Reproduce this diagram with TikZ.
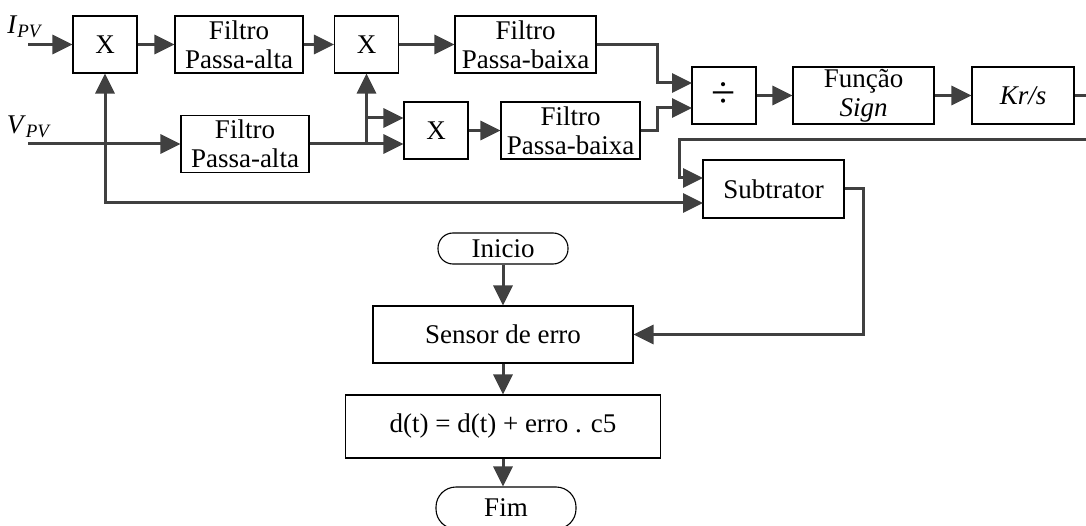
\documentclass[tikz,border=0pt]{standalone}
\usepackage{fontspec}
\setmainfont{Liberation Serif}
\usetikzlibrary{arrows.meta}
\definecolor{linecol}{HTML}{404040}
\tikzset{
  blk/.style={draw=black,line width=1.1pt,fill=white,align=center,inner sep=0pt,
    font=\fontsize{27}{29}\selectfont},
  term/.style={blk,rounded corners=15pt},
  sig/.style={->,line width=3pt,draw=linecol},
  lbl/.style={inner sep=0pt,font=\fontsize{27}{29}\selectfont},
}
\begin{document}
\begin{tikzpicture}[x=1pt,y=-1pt,>={Triangle[length=20pt,width=19pt]}]
    \useasboundingbox (0,0) rectangle (1086,526);
    % upper chain
    \node[blk,minimum width=64pt,minimum height=57pt] (x1) at (105,44.5) {X};
    \node[blk,minimum width=128pt,minimum height=57pt] (hpi) at (239,44.5) {Filtro\\Passa-alta};
    \node[blk,minimum width=64pt,minimum height=57pt] (x2) at (366.5,44.5) {X};
    \node[blk,minimum width=141pt,minimum height=57pt] (lpi) at (525.5,44.5) {Filtro\\Passa-baixa};
    % lower chain
    \node[blk,minimum width=128pt,minimum height=57pt] (hpv) at (245,144) {Filtro\\Passa-alta};
    \node[blk,minimum width=64pt,minimum height=57pt] (x3) at (436,130.5) {X};
    \node[blk,minimum width=139pt,minimum height=57pt] (lpv) at (570.5,130.5) {Filtro\\Passa-baixa};
    % divider, sign, integrator
    \node[blk,minimum width=64pt,minimum height=57pt,font=\fontsize{44}{44}\selectfont] (div) at (724,95.5) {÷};
    \node[blk,minimum width=141pt,minimum height=57pt] (sgn) at (863.5,95.5) {Função\\\textit{Sign}};
    \node[blk,minimum width=102pt,minimum height=57pt] (kr) at (1023,95.5) {\textit{Kr/s}};
    \node[blk,minimum width=141pt,minimum height=58pt] (sub) at (773.5,189) {Subtrator};
    % flowchart
    \node[term,minimum width=130pt,minimum height=31pt] (ini) at (503,248.5) {Inicio};
    \node[blk,minimum width=260pt,minimum height=57pt] (sens) at (503,334.5) {Sensor de erro};
    \node[blk,minimum width=315pt,minimum height=63pt] (dt) at (503,426.5) {d(t) = d(t) + erro . c5};
    \node[term,rounded corners=20pt,minimum width=140pt,minimum height=42pt] (fim) at (506,508) {Fim};
    % inputs
    \node[lbl] (ipvl) at (25,27) {\textit{I}\textsubscript{\textit{PV}}};
    \node[lbl] (vpvl) at (29,127) {\textit{V}\textsubscript{\textit{PV}}};
    \coordinate (ipv) at (28,44.5);
    \coordinate (vpv) at (28,144);
    \draw[sig] (ipv) -- (x1);
    \draw[sig] (vpv) -- (hpv);
    \draw[sig] (x1) -- (hpi);
    \draw[sig] (hpi) -- (x2);
    \draw[sig] (x2) -- (lpi);
    % branch to multipliers
    \draw[sig] (hpv.east) -| (x2.south);
    \coordinate (bra) at (366.5,118);
    \coordinate (brb) at (366.5,144);
    \draw[sig] (bra) -- (x3.west |- bra);
    \draw[sig] (brb) -- (x3.west |- brb);
    \draw[sig] (x3) -- (lpv);
    % into divider
    \coordinate (d1) at (692,83);
    \coordinate (d2) at (692,108);
    \draw[sig] (lpi.east) -- ++(61,0) |- (d1);
    \draw[sig] (lpv.east) -- ++(17,0) |- (d2);
    \draw[sig] (div) -- (sgn);
    \draw[sig] (sgn) -- (kr);
    % feedback to subtractor
    \coordinate (s1) at (703,178);
    \coordinate (s2) at (703,203);
    \draw[sig] (kr.east) -- ++(25,0) |- (679,140) |- (s1);
    \draw[sig,<->] (x1.south) |- (s2);
    \draw[sig] (sub.east) -- ++(19,0) |- (sens.east);
    % flowchart arrows
    \draw[sig] (ini) -- (sens);
    \draw[sig] (sens) -- (dt);
    \draw[sig] (dt) -- (fim.north -| dt);
\end{tikzpicture}
\end{document}
